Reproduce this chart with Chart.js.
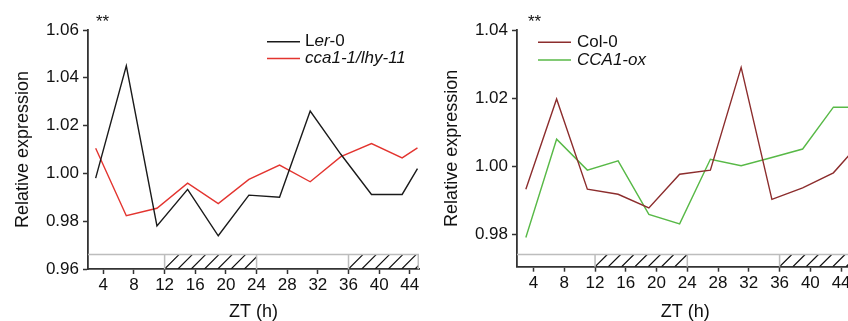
<!DOCTYPE html>
<html lang="en">
  <head>
    <meta charset="UTF-8" />
    <title>Relative expression</title>
    <script src="https://cdn.jsdelivr.net/npm/chart.js"></script>
    <style>
      html, body { margin: 0; padding: 0; background: #fff; overflow: hidden; }
      #wrap { position: relative; width: 848px; height: 321px; overflow: hidden; }
      .panel { position: absolute; top: 0; height: 321px; }
      #left { left: 0; width: 424px; }
      #right { left: 424px; width: 430px; }
    </style>
  </head>
  <body>
    <div id="wrap">
      <div class="panel" id="left"><canvas id="chartLeft"></canvas></div>
      <div class="panel" id="right"><canvas id="chartRight"></canvas></div>
    </div>
  <script>
    // ZT sampling times (h)
    const ztLeft = [3, 7, 11, 15, 19, 23, 27, 31, 35, 39, 43, 45];
    const ler0 = [0.998, 1.045, 0.978, 0.9933, 0.9739, 0.9909, 0.990, 1.0261, 1.008, 0.9912, 0.9912, 1.002];
    const cca1lhy = [1.0105, 0.9823, 0.9854, 0.9959, 0.9874, 0.9975, 1.0035, 0.9965, 1.007, 1.0125, 1.0065, 1.0107];

    const ztRight = [3, 7, 11, 15, 19, 23, 27, 31, 35, 39, 43, 45];
    const col0 = [0.9932, 1.0197, 0.9932, 0.9917, 0.9877, 0.9976, 0.9988, 1.029, 0.9902, 0.9936, 0.998, 1.0031];
    const cca1ox = [0.979, 1.0079, 0.9988, 1.0015, 0.9858, 0.983, 1.002, 1.0001, 1.0025, 1.005, 1.0173, 1.0173];

    const xTicks = [4, 8, 12, 16, 20, 24, 28, 32, 36, 40, 44];
    const yTicksLeft = [0.96, 0.98, 1.00, 1.02, 1.04, 1.06];
    const yTicksRight = [0.98, 1.00, 1.02, 1.04];
    const darkPeriods = [[12, 24], [36, 48]];

    const FONT = "'Liberation Sans', Arial, Helvetica, sans-serif";
    const pts = (xs, ys) => xs.map((x, i) => ({ x: x, y: ys[i] }));

    // light/dark bar, "**" mark and legend with italic parts
    const decor = {
      id: 'decor',
      afterDatasetsDraw(chart, args, opts) {
        const { ctx, chartArea: a, scales: { x, y } } = chart;
        const top = y.getPixelForValue(opts.bandTop);
        const bottom = a.bottom;
        const h = bottom - top;
        ctx.save();
        ctx.beginPath();
        ctx.rect(a.left, 0, a.right - a.left, chart.height);
        ctx.clip();

        ctx.strokeStyle = '#111';
        ctx.lineWidth = 1.2;
        darkPeriods.forEach(([s, e]) => {
          const x0 = x.getPixelForValue(s);
          const x1 = Math.min(x.getPixelForValue(e), a.right);
          ctx.save();
          ctx.beginPath();
          ctx.rect(x0, top, x1 - x0, h);
          ctx.clip();
          ctx.beginPath();
          for (let p = x0; p < x1 + h; p += 13.3) {
            ctx.moveTo(p, bottom);
            ctx.lineTo(p + h, top);
          }
          ctx.stroke();
          ctx.restore();
        });

        ctx.strokeStyle = '#bdbdbd';
        ctx.lineWidth = 1.5;
        ctx.beginPath();
        ctx.moveTo(a.left, top);
        ctx.lineTo(a.right, top);
        darkPeriods.flat().forEach(v => {
          const px = x.getPixelForValue(v);
          ctx.moveTo(px, top);
          ctx.lineTo(px, bottom);
        });
        ctx.moveTo(a.right - 0.75, top);
        ctx.lineTo(a.right - 0.75, bottom);
        ctx.stroke();
        ctx.restore();

        // significance mark
        ctx.save();
        ctx.fillStyle = '#111';
        ctx.font = '17px ' + FONT;
        ctx.textBaseline = 'alphabetic';
        ctx.fillText('**', a.left + opts.starsDx, 27);
        ctx.restore();

        // legend
        const lg = opts.legend;
        ctx.save();
        ctx.textBaseline = 'middle';
        chart.data.datasets.forEach((ds, i) => {
          const ly = lg.y + i * lg.dy;
          ctx.strokeStyle = ds.borderColor;
          ctx.lineWidth = 1.5;
          ctx.beginPath();
          ctx.moveTo(lg.x, ly);
          ctx.lineTo(lg.x + lg.len, ly);
          ctx.stroke();
          let tx = lg.x + lg.len + lg.gap;
          ctx.fillStyle = '#111';
          ds.label.split('*').forEach((part, k) => {
            ctx.font = (k % 2 ? 'italic ' : '') + '17px ' + FONT;
            ctx.fillText(part, tx, ly);
            tx += ctx.measureText(part).width;
          });
        });
        ctx.restore();
      }
    };

    function makeOptions(cfg) {
      return {
        responsive: true,
        maintainAspectRatio: false,
        animation: false,
        layout: { padding: { left: 0, top: 30, right: cfg.padRight, bottom: 0 } },
        elements: { point: { radius: 0 }, line: { tension: 0, borderWidth: 1.4 } },
        plugins: {
          legend: { display: false },
          tooltip: { enabled: false },
          decor: cfg.decor
        },
        scales: {
          x: {
            type: 'linear',
            min: cfg.xMin,
            max: cfg.xMax,
            afterFit: s => { s.height = cfg.xHeight; },
            afterBuildTicks: s => { s.ticks = xTicks.map(v => ({ value: v })); },
            ticks: { autoSkip: false, maxRotation: 0, padding: 1, color: '#111', font: { family: FONT, size: 17 } },
            grid: { drawOnChartArea: false, drawTicks: true, tickLength: 5, tickColor: '#333', tickWidth: 1.5 },
            border: { display: true, color: '#333', width: 1.8 },
            title: { display: true, text: 'ZT (h)', color: '#111', padding: 0, font: { family: FONT, size: 18, lineHeight: 1 } }
          },
          y: {
            min: cfg.yMin,
            max: cfg.yMax,
            afterFit: s => { s.width = cfg.yWidth; },
            afterBuildTicks: s => { s.ticks = cfg.yTicks.map(v => ({ value: v })); },
            ticks: { padding: 4, color: '#111', font: { family: FONT, size: 17 }, callback: v => v.toFixed(2) },
            grid: { drawOnChartArea: false, drawTicks: true, tickLength: 5, tickColor: '#333', tickWidth: 1.5 },
            border: { display: true, color: '#333', width: 1.8 },
            title: { display: true, text: 'Relative expression', color: '#111', padding: { top: cfg.yTitlePad, bottom: 0 }, font: { family: FONT, size: 18 } }
          }
        }
      };
    }

    new Chart(document.getElementById('chartLeft'), {
      type: 'line',
      data: {
        datasets: [
          { label: 'L*er*-0', data: pts(ztLeft, ler0), borderColor: '#1a1a1a' },
          { label: '*cca1-1/lhy-11*', data: pts(ztLeft, cca1lhy), borderColor: '#e3342f' }
        ]
      },
      options: makeOptions({
        xMin: 2.0, xMax: 45.2, yMin: 0.96, yMax: 1.06, yTicks: yTicksLeft,
        yWidth: 88, xHeight: 52, padRight: 5, yTitlePad: 12,
        decor: { bandTop: 0.9661, starsDx: 8, legend: { x: 267, y: 41.7, dy: 16.7, len: 33, gap: 5 } }
      }),
      plugins: [decor]
    });

    new Chart(document.getElementById('chartRight'), {
      type: 'line',
      data: {
        datasets: [
          { label: 'Col-0', data: pts(ztRight, col0), borderColor: '#8c2d2d' },
          { label: '*CCA1-ox*', data: pts(ztRight, cca1ox), borderColor: '#58b947' }
        ]
      },
      options: makeOptions({
        xMin: 1.85, xMax: 45.6, yMin: 0.9704, yMax: 1.04, yTicks: yTicksRight,
        yWidth: 93, xHeight: 54.3, padRight: 0.6, yTitlePad: 17,
        decor: { bandTop: 0.974, starsDx: 11, legend: { x: 114, y: 42.3, dy: 17.7, len: 33, gap: 6 } }
      }),
      plugins: [decor]
    });
  </script>
  </body>
</html>
